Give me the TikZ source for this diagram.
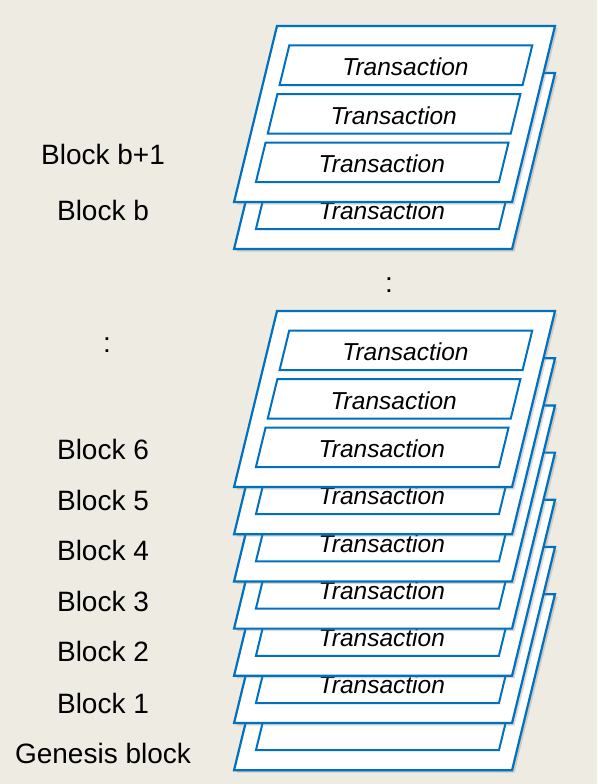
\documentclass[tikz,border=0pt]{standalone}
\usepackage{fontspec}
\setmainfont{Liberation Sans}
\usetikzlibrary{shadows}
\definecolor{bg}{HTML}{EEEBE3}
\definecolor{bblue}{HTML}{0070C0}
\tikzset{
  blockshape/.style={draw=bblue, line width=2.2pt, fill=white, line join=miter,
    drop shadow={shadow xshift=2.5pt, shadow yshift=-2.5pt, opacity=0.3}},
  txbox/.style={draw=bblue, line width=2pt, fill=white},
  txtext/.style={font=\fontsize{24.5}{28}\selectfont\itshape, inner sep=0pt},
  lbl/.style={font=\fontsize{28}{32}\selectfont, anchor=base, inner sep=0pt},
}
% #1 = name, #2 = top (px), #3 = 2: text in all boxes, 1: text in the visible (last) box only, 0: none
\newcommand\myblk[3]{%
  \begin{scope}[shift={(0,#2)}, xslant=0.244]
    \path[blockshape] (277,0) -- (555,0) -- (555,176) -- (277,176) -- cycle;
    \foreach \t [count=\i] in {19.5,68,116.5}{
      \path[txbox] (294,\t) -- (537,\t) -- (537,\t+39.5) -- (294,\t+39.5) -- cycle;
      \ifnum#3=2 \node[txtext] (tx#1\i) at (415.5,\t+21.5) {Transaction};\fi
      \ifnum#3=1 \ifnum\i=3 \node[txtext] (tx#1\i) at (415.5,\t+21.5) {Transaction};\fi\fi
    }
  \end{scope}}
\begin{document}
\begin{tikzpicture}[x=1pt,y=-1pt]
  \fill[bg] (0,0) rectangle (597,784);
  \useasboundingbox (0,0) rectangle (597,784);
  % upper stack
  \myblk{b}{73}{1}
  \myblk{bb}{26}{2}
  % lower stack
  \myblk{g}{594.2}{0}
  \myblk{one}{547}{1}
  \myblk{two}{499.8}{1}
  \myblk{three}{452.6}{1}
  \myblk{four}{405.4}{1}
  \myblk{five}{358.2}{1}
  \myblk{six}{311}{2}
  % labels
  \node[lbl] (lbb) at (103,164) {Block b+1};
  \node[lbl] (lb)  at (103,220) {Block b};
  \node[lbl] (l6)  at (103,459) {Block 6};
  \node[lbl] (l5)  at (103,510) {Block 5};
  \node[lbl] (l4)  at (103,560) {Block 4};
  \node[lbl] (l3)  at (103,611) {Block 3};
  \node[lbl] (l2)  at (103,661) {Block 2};
  \node[lbl] (l1)  at (103,713) {Block 1};
  \node[lbl] (lg)  at (103,763) {Genesis block};
  \node[lbl] (dotsl) at (107,352) {:};
  \node[lbl] (dotsr) at (389,292) {:};
\end{tikzpicture}
\end{document}
